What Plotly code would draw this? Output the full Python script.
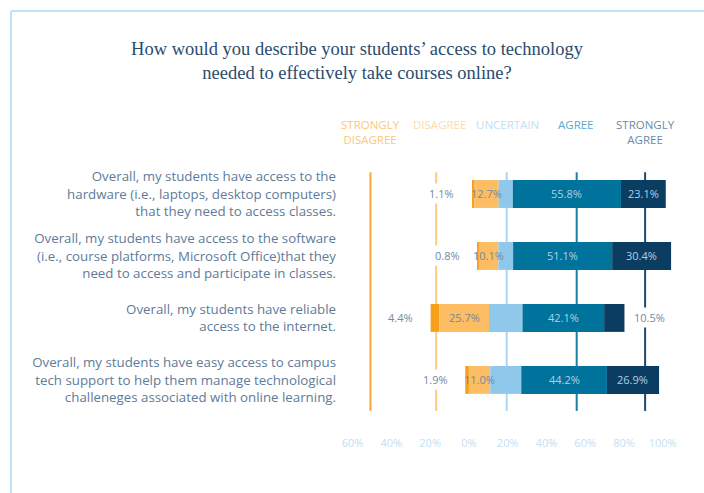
import plotly.graph_objects as go

categories = [
    "Overall, my students have access to the<br>hardware (i.e., laptops, desktop computers)<br>that they need to access classes.",
    "Overall, my students have access to the software<br>(i.e., course platforms, Microsoft Office)that they<br>need to access and participate in classes.",
    "Overall, my students have reliable<br>access to the internet.",
    "Overall, my students have easy access to campus<br>tech support to help them manage technological<br>challeneges associated with online learning.",
]
strongly_disagree = [1.1, 0.8, 4.4, 1.9]
disagree = [12.7, 10.1, 25.7, 11.0]
uncertain = [7.3, 7.6, 17.3, 16.0]
agree = [55.8, 51.1, 42.1, 44.2]
strongly_agree = [23.1, 30.4, 10.5, 26.9]

series_names = ["STRONGLY<br>DISAGREE", "DISAGREE", "UNCERTAIN", "AGREE", "STRONGLY<br>AGREE"]
tick_vals = [-60, -40, -20, 0, 20, 40, 60, 80, 100]
tick_text = ["60%", "40%", "20%", "0%", "20%", "40%", "60%", "80%", "100%"]

# styles / layout constants
colors = ["#f5a11c", "#fdbd62", "#8fc8ea", "#00739d", "#0b3d63"]
line_colors = ["#f7aa33", "#fdca80", "#a9d6f0", "#197fa6", "#1c4a6e"]
header_colors = ["#fbc877", "#fddcaa", "#bfe0f4", "#5ba8cd", "#6c8aa8"]
line_pos = [-50.8, -16.9, 19.5, 55.6, 90.9]
header_pos = [-50.8, -15.4, 20.1, 55.3, 90.9]
center = 19.0
label_font = "'Open Sans', Lato, sans-serif"
dark_txt = "#74899f"
light_txt = "#b0cfe3"

ML, MR, MT, MB = 341, 18, 163, 61
W, H = 704, 493
pw = W - ML - MR
ph = H - MT - MB

n = len(categories)
ypos = list(range(n))
segs = [strongly_disagree, disagree, uncertain, agree, strongly_agree]
starts = [center - uncertain[i] / 2 - disagree[i] - strongly_disagree[i] for i in range(n)]

fig = go.Figure()
bases_all = []
for k, seg in enumerate(segs):
    bases = []
    for i in range(n):
        b = starts[i] + sum(segs[j][i] for j in range(k))
        bases.append(b)
    bases_all.append(bases)
    fig.add_trace(go.Bar(
        y=ypos, x=seg, base=bases, orientation="h",
        marker=dict(color=colors[k], line=dict(width=0)),
        width=0.45, showlegend=False, hoverinfo="skip",
    ))

annotations = []
shapes = []
vf = dict(family=label_font, size=11)
for i in range(n):
    annotations.append(dict(
        x=starts[i] - 7.5, y=i, xref="x", yref="y", xanchor="right",
        text=f"{strongly_disagree[i]:.1f}%", showarrow=False,
        font=dict(**vf, color=dark_txt), bgcolor="white", borderpad=2,
    ))
    annotations.append(dict(
        x=bases_all[1][i] + disagree[i] / 2, y=i, xref="x", yref="y",
        text=f"{disagree[i]:.1f}%", showarrow=False,
        font=dict(**vf, color=dark_txt),
    ))
    annotations.append(dict(
        x=bases_all[3][i] + agree[i] / 2, y=i, xref="x", yref="y",
        text=f"{agree[i]:.1f}%", showarrow=False,
        font=dict(**vf, color=light_txt),
    ))
    if strongly_agree[i] >= 15:
        annotations.append(dict(
            x=bases_all[4][i] + strongly_agree[i] / 2, y=i, xref="x", yref="y",
            text=f"{strongly_agree[i]:.1f}%", showarrow=False,
            font=dict(**vf, color=light_txt),
        ))
    else:
        end = bases_all[4][i] + strongly_agree[i]
        annotations.append(dict(
            x=end + 3.5, y=i, xref="x", yref="y", xanchor="left",
            text=f"{strongly_agree[i]:.1f}%", showarrow=False,
            font=dict(**vf, color=dark_txt), bgcolor="white", borderpad=2,
        ))

header_y = (H - MB - 115) / ph
for k in range(5):
    shapes.append(dict(
        type="line", xref="x", yref="y", x0=line_pos[k], x1=line_pos[k],
        y0=-0.35, y1=3.5, layer="below",
        line=dict(color=line_colors[k], width=2),
    ))
    annotations.append(dict(
        x=header_pos[k], y=header_y, xref="x", yref="paper", yanchor="top",
        text=series_names[k], showarrow=False, align="center",
        font=dict(family=label_font, size=11.5, color=header_colors[k]),
    ))

# border (top & left)
bx = (11 - ML) / pw
by = (H - MB - 11) / ph
shapes.append(dict(type="line", xref="paper", yref="paper", x0=bx, x1=(W - ML) / pw + 0.01,
                   y0=by, y1=by, line=dict(color="#a9d8f4", width=1.5)))
shapes.append(dict(type="line", xref="paper", yref="paper", x0=bx, x1=bx,
                   y0=by, y1=-(MB + 5) / ph, line=dict(color="#a9d8f4", width=1.5)))

fig.update_layout(
    width=W, height=H,
    margin=dict(l=ML, r=MR, t=MT, b=MB),
    paper_bgcolor="white", plot_bgcolor="white",
    barmode="overlay",
    title=dict(
        text="How would you describe your students’ access to technology<br>needed to effectively take courses online?",
        x=357 / W, xref="container", xanchor="center",
        y=1 - 55 / H, yref="container", yanchor="top",
        font=dict(family="'Liberation Serif', serif", size=18.5, color="#2a4c6e"),
    ),
    xaxis=dict(
        range=[-66, 112], tickvals=tick_vals, ticktext=tick_text,
        showgrid=False, zeroline=False, showline=False, ticks="",
        tickfont=dict(family=label_font, size=11, color="#c3e0f3"),
        ticklabelstandoff=3,
        fixedrange=True,
    ),
    yaxis=dict(
        range=[3.84, -0.5], tickvals=ypos, ticktext=categories,
        showgrid=False, zeroline=False, showline=False, ticks="",
        tickfont=dict(family=label_font, size=13.3, color="#5e7b99"),
        ticklabelstandoff=4,
        fixedrange=True,
    ),
    annotations=annotations,
    shapes=shapes,
)

fig.write_html("out.html")
